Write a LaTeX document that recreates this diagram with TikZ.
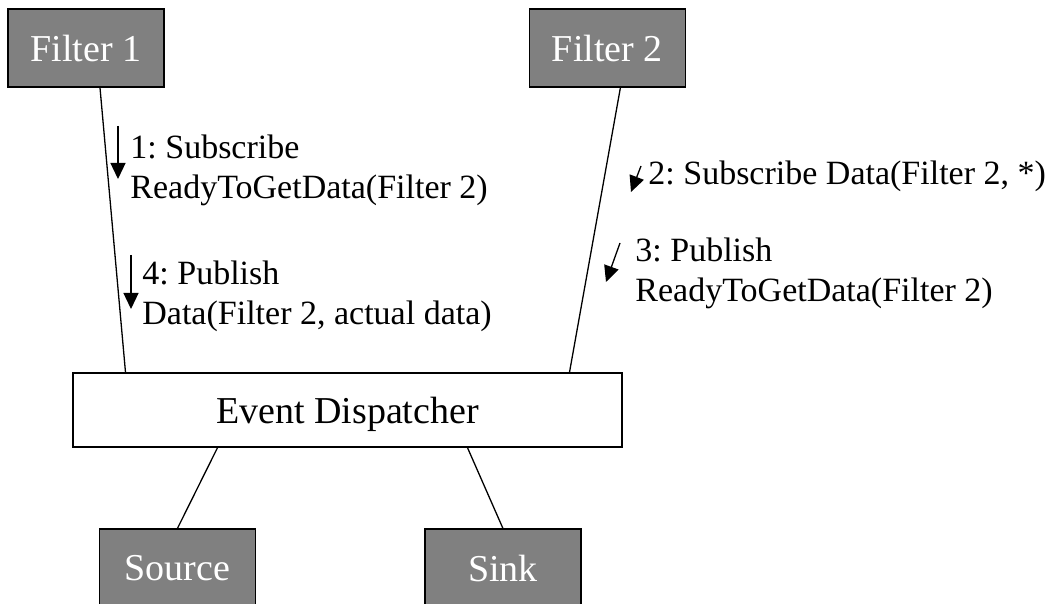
\documentclass[tikz,border=0pt]{standalone}
\usepackage{fontspec}
\setmainfont{Liberation Serif}
\usetikzlibrary{arrows.meta,positioning}

\begin{document}
\begin{tikzpicture}[
            x=0.5pt, y=-0.5pt,
            >={Triangle[length=8pt,width=7.5pt]},
            node distance=182pt,
            filterbox/.style={draw=black, line width=0.7pt, fill=gray, text=white,
                minimum width=78pt, minimum height=39pt, inner sep=0pt,
                text depth=0pt, font=\fontsize{19}{23}\selectfont},
            dispbox/.style={filterbox, fill=white, text=black,
                minimum width=274.5pt, minimum height=37pt},
            msg/.style={anchor=base west, align=left, inner sep=0pt,
                font=\fontsize{17}{20}\selectfont\frenchspacing},
            link/.style={line width=0.65pt}
        ]
        \useasboundingbox (0,0) rectangle (1056,604);

        \node[filterbox] (filter1) at (86,48) {Filter 1};
        \node[filterbox, right=of filter1] (filter2) {Filter 2};
        \node[dispbox] (disp) at (347.5,410) {Event Dispatcher};
        \node[filterbox] (source) at (177.5,568) {Source};
        \node[filterbox, right=84pt of source] (sink) {Sink};

        \draw[link] ([xshift=7pt]filter1.south) -- ([xshift=-111pt]disp.north);
        \draw[link] ([xshift=6.5pt]filter2.south) -- ([xshift=111pt]disp.north);
        \draw[link] ([xshift=-65pt]disp.south) -- (source.north);
        \draw[link] ([xshift=60pt]disp.south) -- (sink.north);

        % messages
        \coordinate (m1a) at (118,126);
        \coordinate (m1b) at (118,179);
        \coordinate (m4a) at (131,255);
        \coordinate (m4b) at (131,309);
        \coordinate (m2a) at (641,166);
        \coordinate (m2b) at (631,192);
        \coordinate (m3a) at (620,243);
        \coordinate (m3b) at (606,282);
        \draw[link,->] (m1a) -- (m1b);
        \draw[link,->] (m4a) -- (m4b);
        \draw[link,->] (m2a) -- (m2b);
        \draw[link,->] (m3a) -- (m3b);

        % base anchor sits on the last line
        \node[msg] (msg1) at (130,199) {1: Subscribe\\ReadyToGetData(Filter 2)};
        \node[msg] (msg4) at (142,325) {4: Publish\\Data(Filter 2, actual data)};
        \node[msg] (msg2) at (648,185) {2: Subscribe Data(Filter 2, *)};
        \node[msg] (msg3) at (635,302) {3: Publish\\ReadyToGetData(Filter 2)};
    \end{tikzpicture}
\end{document}
